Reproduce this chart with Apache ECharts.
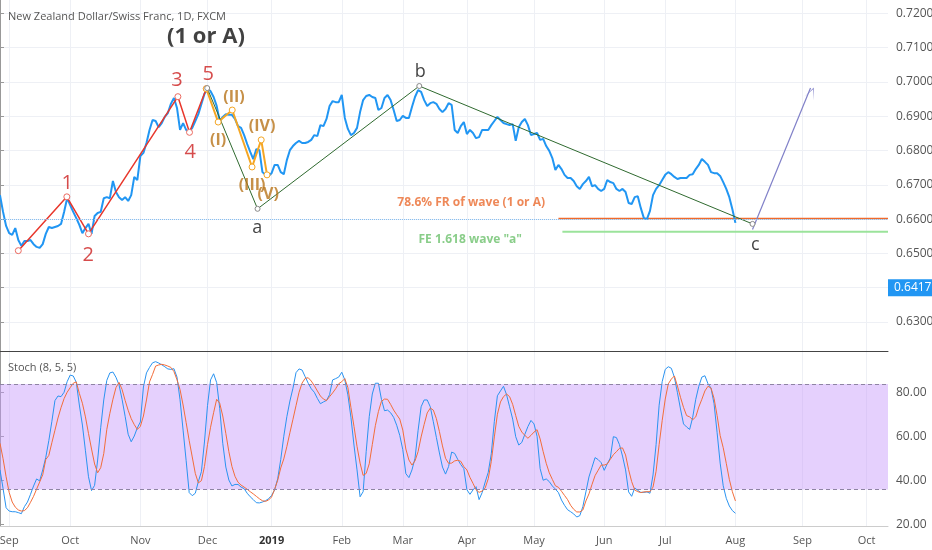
<!DOCTYPE html>
<html>
<head>
<meta charset="utf-8">
<script src="https://cdn.jsdelivr.net/npm/echarts@6/dist/echarts.min.js"></script>
<style>
  html, body { margin: 0; padding: 0; background: #fff; }
  #main { width: 932px; height: 550px; }
</style>
</head>
<body>
<div id="main"></div>
<script>
// daily closes, one per trading day from 2018-08-29
var closes = [
  0.6670,0.6621,0.6580,0.6559,0.6554,0.6574,0.6539,0.6522,0.6536,0.6536,
  0.6539,0.6527,0.6519,0.6516,0.6527,0.6557,0.6577,0.6574,0.6577,0.6580,
  0.6586,0.6621,0.6661,0.6641,0.6621,0.6603,0.6583,0.6559,0.6574,0.6586,
  0.6557,0.6609,0.6618,0.6621,0.6661,0.6664,0.6661,0.6711,0.6679,0.6664,
  0.6656,0.6664,0.6653,0.6670,0.6723,0.6714,0.6784,0.6793,0.6822,0.6860,
  0.6889,0.6886,0.6868,0.6880,0.6898,0.6909,0.6936,0.6953,0.6924,0.6860,
  0.6880,0.6860,0.6854,0.6866,0.6886,0.6906,0.6936,0.6965,0.6982,0.6973,
  0.6956,0.6930,0.6886,0.6898,0.6906,0.6904,0.6904,0.6892,0.6871,0.6866,
  0.6845,0.6819,0.6796,0.6775,0.6804,0.6801,0.6737,0.6729,0.6726,0.6734,
  0.6758,0.6758,0.6737,0.6731,0.6772,0.6801,0.6813,0.6822,0.6828,0.6822,
  0.6822,0.6825,0.6831,0.6845,0.6842,0.6874,0.6871,0.6892,0.6930,0.6944,
  0.6941,0.6941,0.6962,0.6895,0.6863,0.6845,0.6851,0.6866,0.6912,0.6947,
  0.6959,0.6962,0.6956,0.6953,0.6918,0.6924,0.6953,0.6962,0.6947,0.6918,
  0.6886,0.6889,0.6901,0.6895,0.6895,0.6927,0.6956,0.6976,0.6971,0.6947,
  0.6930,0.6938,0.6941,0.6936,0.6921,0.6912,0.6921,0.6938,0.6933,0.6860,
  0.6851,0.6871,0.6883,0.6848,0.6860,0.6851,0.6836,0.6839,0.6860,0.6860,
  0.6860,0.6874,0.6886,0.6898,0.6889,0.6880,0.6877,0.6874,0.6877,0.6828,
  0.6868,0.6883,0.6892,0.6874,0.6845,0.6848,0.6851,0.6831,0.6834,0.6813,
  0.6799,0.6778,0.6743,0.6758,0.6746,0.6729,0.6720,0.6720,0.6711,0.6696,
  0.6688,0.6702,0.6711,0.6723,0.6696,0.6699,0.6688,0.6682,0.6688,0.6714,
  0.6708,0.6705,0.6688,0.6682,0.6688,0.6679,0.6647,0.6644,0.6664,0.6667,
  0.6632,0.6603,0.6600,0.6624,0.6670,0.6688,0.6699,0.6714,0.6729,0.6737,
  0.6731,0.6723,0.6717,0.6720,0.6720,0.6720,0.6729,0.6731,0.6746,0.6758,
  0.6775,0.6767,0.6758,0.6737,0.6734,0.6734,0.6726,0.6708,0.6688,0.6664,
  0.6629,0.6589
];

// Stoch (8,5,5) %K and %D
var stochK = [
  44.9,36.5,27.7,26.2,25.9,25.9,25.5,25.0,28.2,30.3,
  33.8,37.6,40.8,39.9,44.9,50.6,58.2,67.0,76.4,78.5,
  78.2,80.2,85.0,88.0,87.6,84.7,74.4,65.3,53.6,41.8,
  35.5,37.9,49.4,64.1,76.7,85.6,89.0,89.4,87.0,83.6,
  77.0,69.3,61.1,57.7,60.3,64.0,66.7,82.6,89.0,91.5,
  93.6,94.1,93.5,92.7,91.8,90.8,90.6,90.9,87.1,76.8,
  63.0,49.1,34.6,33.2,34.3,39.6,44.1,57.6,74.1,85.8,
  88.6,84.6,72.9,57.0,46.2,40.3,37.6,38.3,38.3,37.1,
  36.4,34.3,32.7,31.4,30.0,29.9,30.3,30.9,31.8,33.3,
  35.8,40.9,49.6,60.2,69.1,76.2,82.0,89.1,90.8,90.3,
  87.3,84.3,81.8,80.2,77.4,75.0,75.8,76.5,79.1,85.8,
  86.4,87.1,89.3,85.8,79.0,68.8,56.2,44.9,32.7,35.0,
  53.2,69.1,79.4,84.3,84.3,77.0,71.8,72.1,70.9,68.8,
  65.2,60.6,54.1,43.2,41.4,44.9,50.2,62.7,73.6,76.7,
  76.7,73.6,66.8,59.7,52.6,46.2,43.0,46.4,53.0,52.4,
  49.7,47.3,45.5,35.9,33.8,35.8,37.3,31.4,34.6,39.4,
  43.8,52.3,67.0,78.6,80.8,82.9,79.1,73.6,68.0,60.0,
  56.2,57.4,61.1,64.6,67.4,65.8,60.2,45.5,40.2,40.8,
  39.6,37.6,36.2,34.6,31.2,28.8,26.8,25.9,24.9,23.5,
  24.1,28.2,34.9,41.7,46.1,50.5,49.6,48.2,44.7,47.7,
  50.3,60.0,59.6,56.4,51.2,44.9,34.9,32.9,36.7,35.6,
  34.7,34.7,34.9,34.3,42.6,56.4,74.3,85.0,90.6,91.8,
  91.1,87.0,80.0,72.6,65.8,64.4,63.3,68.8,77.0,82.9,
  87.1,87.7,84.1,82.1,75.0,61.8,48.0,37.7,32.0,28.5,
  26.4,25.2
];
var stochD = [
  57.0,50.0,41.8,34.7,30.3,28.0,26.7,26.2,26.4,27.7,
  30.2,32.9,36.2,39.4,42.7,49.6,51.5,57.3,62.9,68.5,
  73.2,77.3,80.2,82.3,84.3,84.9,79.7,75.2,69.0,61.5,
  54.4,47.6,43.6,45.9,52.3,63.3,70.6,77.0,82.3,84.7,
  81.5,76.5,72.0,68.2,65.5,63.3,64.7,69.4,76.7,84.9,
  88.3,92.1,92.6,92.9,92.6,92.1,91.5,89.6,85.9,81.4,
  74.4,66.4,58.2,50.8,43.3,39.0,40.0,46.4,56.4,64.3,
  70.9,77.0,75.2,69.4,61.5,53.2,46.5,42.0,39.3,38.0,
  37.1,36.1,35.0,34.0,32.9,31.8,30.9,30.6,31.2,32.6,
  36.1,40.2,45.8,49.9,55.5,61.8,67.9,74.1,80.2,84.4,
  86.5,86.8,85.3,83.2,80.8,78.5,77.1,76.4,78.2,79.9,
  81.8,84.1,85.0,86.4,82.3,73.3,64.7,55.6,48.0,42.4,
  43.3,47.7,56.4,65.0,71.4,76.1,77.1,77.0,74.7,72.1,
  70.0,68.0,63.0,54.4,49.4,47.1,49.0,53.2,59.9,65.6,
  70.8,73.0,72.1,68.2,62.3,55.8,50.2,47.9,48.0,49.0,
  49.3,48.8,46.4,44.9,41.5,38.8,35.9,34.7,35.3,36.7,
  40.9,48.8,59.9,70.2,75.8,78.2,79.4,78.2,74.7,69.6,
  64.7,62.1,60.6,59.3,60.6,62.1,63.2,59.0,53.2,47.9,
  43.6,40.6,37.7,37.0,35.2,33.3,31.4,28.8,27.0,25.8,
  25.8,26.7,30.8,34.0,38.3,42.3,44.7,47.1,47.1,47.6,
  49.7,51.8,53.2,54.7,54.9,51.7,45.0,39.6,35.8,35.0,
  34.6,34.9,35.0,35.0,37.1,44.3,56.4,67.3,77.1,84.0,
  86.2,87.6,83.0,77.9,73.3,69.6,69.0,67.7,69.0,73.5,
  77.0,80.8,82.9,82.1,77.4,69.6,60.5,55.0,47.9,40.6,
  35.0,30.8
];

// drawings: [bar index, price]
var impulseWave = [[6.0,0.6508],[21.9,0.6665],[29.0,0.6557],[58.3,0.6957],[62.1,0.6853],[67.6,0.6980]];
var subWave = [[67.6,0.6980],[71.5,0.6883],[76.1,0.6918],[82.6,0.6752],[85.6,0.6831],[87.5,0.6729]];
var abcWave = [[67.9,0.6982],[84.4,0.6630],[137.4,0.6988],[246.6,0.6586]];
var projection = [[246.6,0.6570],[265.6,0.6982]];
var frLevel = [[183,0.6602],[291,0.6602]];
var feLevel = [[184.3,0.6563],[291,0.6563]];
var lastClose = 0.6589;
var currentPrice = 0.64175;

var redLabels = [['1',22,0.6705],['2',28.9,0.6495],['3',58,0.7006],['4',62.3,0.6796],['5',68.2,0.7023]];
var orangeLabels = [['(I)',71.5,0.6828],['(II)',76.7,0.6956],['(III)',82.6,0.6699],['(IV)',85.9,0.6871],['(V)',87.9,0.6673]];
var blackLabels = [['a',84.3,0.6574],['b',137.7,0.7029],['c',247.5,0.6524]];

var priceTicks = [0.63,0.64,0.65,0.66,0.67,0.68,0.69,0.70,0.71,0.72];
var stochTicks = [20,40,60,80];
var monthNames = ['Jan','Feb','Mar','Apr','May','Jun','Jul','Aug','Sep','Oct','Nov','Dec'];

// trading days (weekdays) for the axis
var days = [];
var d = new Date(Date.UTC(2018, 7, 29));
var endTime = Date.UTC(2019, 9, 10);
while (d.getTime() <= endTime) {
  var wd = d.getUTCDay();
  if (wd !== 0 && wd !== 6) days.push(d.toISOString().slice(0, 10));
  d.setUTCDate(d.getUTCDate() + 1);
}
var lastIdx = days.length - 1;

function isMonthStart(i) {
  return i > 0 && days[i].slice(5, 7) !== days[i - 1].slice(5, 7);
}
function monthLabel(v) {
  var m = parseInt(v.slice(5, 7), 10) - 1;
  if (m === 0) return '{y|' + v.slice(0, 4) + '}';
  return monthNames[m];
}

function pairs(arr) {
  return arr.map(function (v, i) { return [i, v]; });
}
function labelData(list, color, size, weight) {
  return list.map(function (l) {
    return {
      value: [l[1], l[2]],
      label: { formatter: l[0], color: color, fontSize: size, fontWeight: weight }
    };
  });
}

var FONT = 'Open Sans';
var gridColor = '#eef0f5';
var textColor = '#555';

var myChart = echarts.init(document.getElementById('main'));

var option = {
  animation: false,
  backgroundColor: '#fff',
  textStyle: { fontFamily: FONT },
  title: [
    { text: 'New Zealand Dollar/Swiss Franc, 1D, FXCM', left: 3, top: 6,
      textStyle: { fontSize: 11, color: textColor, fontWeight: 'normal', fontFamily: FONT } },
    { text: 'Stoch (8, 5, 5)', left: 3, top: 357,
      textStyle: { fontSize: 11, color: textColor, fontWeight: 'normal', fontFamily: FONT } }
  ],
  grid: [
    { left: 0, right: 44, top: 0, height: 351, outerBoundsMode: 'none', containLabel: false },
    { left: 0, right: 44, top: 351, bottom: 24, outerBoundsMode: 'none', containLabel: false }
  ],
  xAxis: [
    { type: 'category', gridIndex: 0, data: days, boundaryGap: false,
      axisLine: { show: true, lineStyle: { color: '#444' } },
      axisTick: { show: false }, axisLabel: { show: false },
      splitLine: { show: true, interval: isMonthStart, lineStyle: { color: gridColor } } },
    { type: 'value', gridIndex: 0, min: 0, max: lastIdx, show: false },
    { type: 'category', gridIndex: 1, data: days, boundaryGap: false,
      axisLine: { show: true, lineStyle: { color: '#ccc' } },
      axisTick: { show: false },
      axisLabel: { interval: isMonthStart, formatter: monthLabel, color: textColor, fontSize: 11, margin: 9,
        rich: { y: { fontWeight: 'bold', color: '#333', fontSize: 11 } } },
      splitLine: { show: true, interval: isMonthStart, lineStyle: { color: gridColor } } },
    { type: 'value', gridIndex: 1, min: 0, max: lastIdx, show: false }
  ],
  yAxis: [
    { type: 'value', gridIndex: 0, position: 'right', min: 0.62155, max: 0.72388,
      axisLine: { show: true, lineStyle: { color: '#999' } },
      axisTick: { show: true, length: 4, customValues: priceTicks, lineStyle: { color: '#999' } },
      axisLabel: { customValues: priceTicks, color: textColor, fontSize: 12, margin: 8,
        formatter: function (v) { return v.toFixed(5); } },
      splitLine: { show: true, lineStyle: { color: gridColor } } },
    { type: 'value', gridIndex: 1, position: 'right', min: 19.41, max: 98.95,
      axisLine: { show: true, lineStyle: { color: '#999' } },
      axisTick: { show: true, length: 4, customValues: stochTicks, lineStyle: { color: '#999' } },
      axisLabel: { customValues: stochTicks, color: textColor, fontSize: 12, margin: 8,
        formatter: function (v) { return v.toFixed(2); } },
      splitLine: { show: false } }
  ],
  series: [
    { name: 'price', type: 'line', xAxisIndex: 1, yAxisIndex: 0, data: pairs(closes),
      showSymbol: false, lineStyle: { color: '#2196f3', width: 2 }, itemStyle: { color: '#2196f3' }, z: 3,
      markLine: { silent: true, symbol: 'none', label: { show: false },
        lineStyle: { color: '#86bff2', type: 'dotted', width: 1 },
        data: [{ yAxis: lastClose }] } },
    { name: 'current', type: 'line', xAxisIndex: 1, yAxisIndex: 0, data: [],
      markLine: { silent: true, symbol: 'none',
        lineStyle: { color: 'rgba(0,0,0,0)', width: 0 },
        label: { show: true, position: 'end', distance: 0, formatter: '0.64175',
          color: '#fff', backgroundColor: '#2196f3', padding: [3, 6, 2, 6],
          fontSize: 12, fontFamily: FONT },
        data: [{ yAxis: currentPrice }] }, z: 8 },
    { name: 'FR', type: 'line', xAxisIndex: 1, yAxisIndex: 0, data: frLevel,
      showSymbol: false, lineStyle: { color: '#ef6a2c', width: 1.5 }, z: 2 },
    { name: 'FE', type: 'line', xAxisIndex: 1, yAxisIndex: 0, data: feLevel,
      showSymbol: false, lineStyle: { color: '#9be39b', width: 2 }, z: 2 },
    { name: 'impulse', type: 'line', xAxisIndex: 1, yAxisIndex: 0, data: impulseWave,
      symbol: 'circle', symbolSize: 6, lineStyle: { color: '#e8372c', width: 1.5 },
      itemStyle: { color: '#fff', borderColor: '#eb6a60', borderWidth: 1 }, z: 4 },
    { name: 'sub', type: 'line', xAxisIndex: 1, yAxisIndex: 0, data: subWave,
      symbol: 'circle', symbolSize: 6, lineStyle: { color: '#f5a623', width: 2 },
      itemStyle: { color: '#fff', borderColor: '#f5a623', borderWidth: 1 }, z: 4 },
    { name: 'abc', type: 'line', xAxisIndex: 1, yAxisIndex: 0, data: abcWave,
      symbol: 'circle', symbolSize: 5, lineStyle: { color: '#2f6a2f', width: 1 },
      itemStyle: { color: '#fff', borderColor: '#888', borderWidth: 1 }, z: 4 },
    { name: 'projection', type: 'line', xAxisIndex: 1, yAxisIndex: 0, data: projection,
      showSymbol: false, lineStyle: { color: '#8080c8', width: 1.2 }, z: 4,
      markPoint: { silent: true, symbol: 'path://M0,10 L5,0 L10,10 L5,1.5 Z', symbolSize: [10, 12],
        symbolRotate: -22, itemStyle: { color: '#8080c8' }, label: { show: false },
        data: [{ coord: projection[1], symbolOffset: [1, 5] }] } },
    { name: 'labels', type: 'scatter', xAxisIndex: 1, yAxisIndex: 0, symbolSize: 1,
      itemStyle: { color: 'transparent' }, silent: true, z: 6,
      label: { show: true, position: 'inside', fontFamily: FONT },
      data: [].concat(
        labelData(redLabels, '#cc1f1f', 20, 'normal'),
        labelData(orangeLabels, '#b8741a', 16, 'bold'),
        labelData(blackLabels, '#111', 18, 'normal'),
        labelData([['(1 or A)', 67.5, 0.7131]], '#111', 22, 'bold'),
        labelData([['78.6% FR of wave (1 or A)', 154.4, 0.6647]], '#ea6a2e', 12, 'bold'),
        labelData([['FE 1.618 wave "a"', 154.1, 0.6539]], '#6cc06c', 12, 'bold')
      ) },
    { name: '%K', type: 'line', xAxisIndex: 3, yAxisIndex: 1, data: pairs(stochK),
      showSymbol: false, lineStyle: { color: '#2a93f0', width: 1 }, z: 3,
      markArea: { silent: true, itemStyle: { color: 'rgba(198,150,250,0.45)' },
        data: [[{ yAxis: 36 }, { yAxis: 84 }]] },
      markLine: { silent: true, symbol: 'none', label: { show: false },
        lineStyle: { color: '#8e84a3', type: [4, 3], width: 1 },
        data: [{ yAxis: 84 }, { yAxis: 36 }] } },
    { name: '%D', type: 'line', xAxisIndex: 3, yAxisIndex: 1, data: pairs(stochD),
      showSymbol: false, lineStyle: { color: '#f26d3a', width: 1 }, z: 3 }
  ]
};

myChart.setOption(option);
</script>
</body>
</html>
